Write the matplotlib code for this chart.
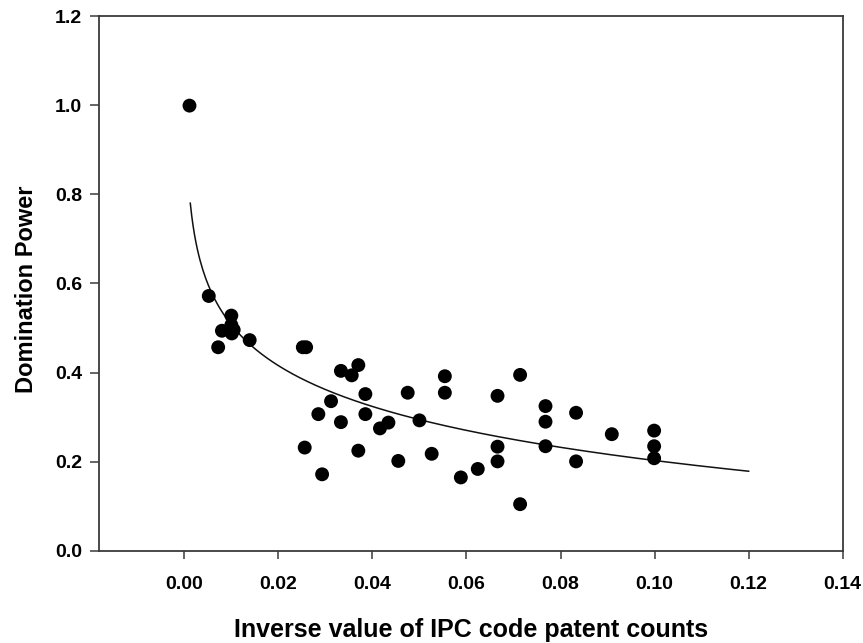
import numpy as np
import matplotlib
matplotlib.use("Agg")
import matplotlib.pyplot as plt

plt.rcParams['font.family'] = ['Liberation Sans', 'DejaVu Sans']

# Data (inverse of IPC code patent counts vs domination power)
inv_counts = [0.0011, 0.0052, 0.0100, 0.0080, 0.0100, 0.0105, 0.0101, 0.0072,
              0.0139, 0.0252, 0.0259, 0.0333, 0.0370, 0.0356, 0.0385, 0.0312,
              0.0285, 0.0333, 0.0385, 0.0416, 0.0434, 0.0475, 0.0554, 0.0554,
              0.0500, 0.0256, 0.0293, 0.0370, 0.0455, 0.0526, 0.0588, 0.0624,
              0.0666, 0.0666, 0.0666, 0.0714, 0.0714, 0.0768, 0.0768, 0.0768,
              0.0833, 0.0833, 0.0909, 0.0999, 0.0999, 0.0999]
domination = [0.999, 0.572, 0.528, 0.494, 0.507, 0.496, 0.488, 0.457,
              0.473, 0.457, 0.457, 0.404, 0.417, 0.394, 0.352, 0.336,
              0.307, 0.289, 0.307, 0.275, 0.288, 0.355, 0.392, 0.355,
              0.293, 0.232, 0.172, 0.225, 0.202, 0.218, 0.165, 0.184,
              0.348, 0.234, 0.201, 0.395, 0.105, 0.325, 0.290, 0.235,
              0.310, 0.201, 0.262, 0.270, 0.235, 0.208]

# Logarithmic fit y = a + b*ln(x)
fit_a, fit_b = -0.1014, -0.1322
fit_x_range = (0.00127, 0.12)

x_ticks = [0.00, 0.02, 0.04, 0.06, 0.08, 0.10, 0.12, 0.14]
y_ticks = [0.0, 0.2, 0.4, 0.6, 0.8, 1.0, 1.2]

fig = plt.figure(figsize=(8.63, 6.43), dpi=100)
ax = fig.add_axes([0.1151, 0.1431, 0.9765 - 0.1151, 0.9751 - 0.1431])

ax.scatter(inv_counts, domination, s=100, color='black', edgecolors='none', zorder=3)

xf = np.linspace(fit_x_range[0], fit_x_range[1], 400)
ax.plot(xf, fit_a + fit_b * np.log(xf), color='#111111', lw=1.1, zorder=2)

ax.set_xlim(-0.01807, 0.14)
ax.set_ylim(0.0, 1.2)
ax.set_xticks(x_ticks)
ax.set_xticklabels([f"{t:.2f}" for t in x_ticks])
ax.set_yticks(y_ticks)
ax.set_yticklabels([f"{t:.1f}" for t in y_ticks])

for s in ax.spines.values():
    s.set_color('#3a3a3a')
    s.set_linewidth(1.3)

ax.tick_params(axis='x', direction='out', length=6, width=1.1, color='#3a3a3a',
               pad=12, labelsize=14)
ax.tick_params(axis='y', direction='out', length=6.5, width=1.1, color='#3a3a3a',
               pad=6, labelsize=14)
for lab in ax.get_xticklabels() + ax.get_yticklabels():
    lab.set_fontweight('bold')

ax.set_xlabel('Inverse value of IPC code patent counts', fontsize=18,
              fontweight='bold', labelpad=18)
ax.set_ylabel('Domination Power', fontsize=17, fontweight='bold', labelpad=12)
ax.yaxis.label.set_y(0.49)

fig.savefig('out.png', dpi=100, facecolor='white')
